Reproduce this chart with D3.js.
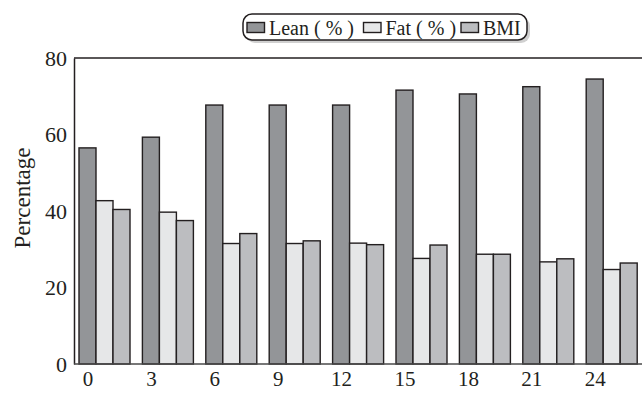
<!DOCTYPE html>
<html>
<head>
<meta charset="utf-8">
<script src="https://cdn.jsdelivr.net/npm/d3@7"></script>
<style>
  body { margin: 0; background: #fff; }
  svg { display: block; }
  text { font-family: "Liberation Serif", "Times New Roman", serif; fill: #231f20; }
</style>
</head>
<body>
<svg id="chart" width="642" height="393"></svg>
<script>
const categories = [0, 3, 6, 9, 12, 15, 18, 21, 24];
const seriesNames = ["Lean ( % )", "Fat ( % )", "BMI"];
const lean = [56.5, 59.3, 67.7, 67.7, 67.7, 71.6, 70.6, 72.5, 74.5];
const fat  = [42.7, 39.7, 31.5, 31.5, 31.6, 27.6, 28.7, 26.7, 24.7];
const bmi  = [40.4, 37.5, 34.1, 32.2, 31.2, 31.1, 28.7, 27.5, 26.4];
const yTicks = [0, 20, 40, 60, 80];
const colors = ["#939598", "#e6e7e8", "#bcbdc0"];
const series = [lean, fat, bmi];

const svg = d3.select("#chart");
const mLeft = 74, mTop = 58, mBottom = 364, mRight = 660;

const x = d3.scaleLinear().domain([0, 24]).range([87.5, 594.7]);
const y = d3.scaleLinear().domain([0, 80]).range([mBottom, mTop]);
const bw = 17;

// bars
series.forEach((vals, si) => {
  svg.append("g").selectAll("rect")
    .data(categories.map((c, i) => ({ c, v: vals[i] })))
    .join("rect")
    .attr("x", d => x(d.c) - bw / 2 + si * bw)
    .attr("y", d => y(d.v))
    .attr("width", bw)
    .attr("height", d => y(0) - y(d.v))
    .attr("fill", colors[si])
    .attr("stroke", "#231f20")
    .attr("stroke-width", 1.4);
});

// frame lines
svg.append("line").attr("x1", mLeft).attr("x2", mRight).attr("y1", mTop).attr("y2", mTop)
  .attr("stroke", "#231f20").attr("stroke-width", 1.5);

// axes
const yAxis = svg.append("g").attr("transform", `translate(${mLeft},0)`)
  .call(d3.axisLeft(y).tickValues(yTicks).tickSize(0).tickPadding(7).tickSizeOuter(0));
yAxis.select(".domain").attr("stroke", "#231f20").attr("stroke-width", 1.5);
yAxis.attr("font-family", '"Liberation Serif", serif');
yAxis.selectAll("text").style("font-size", "22px").attr("dy", "0.32em");

const xAxis = svg.append("g").attr("transform", `translate(0,${mBottom})`)
  .call(d3.axisBottom(x).tickValues(categories).tickSize(0).tickPadding(7).tickSizeOuter(0));
xAxis.select(".domain").attr("d", `M${mLeft},0H${mRight}`).attr("stroke", "#4a4a4a").attr("stroke-width", 1.5);
xAxis.attr("font-family", '"Liberation Serif", serif');
xAxis.selectAll("text").style("font-size", "21px");

// y label
svg.append("text")
  .attr("transform", `translate(30,198) rotate(-90)`)
  .attr("text-anchor", "middle")
  .style("font-size", "23px")
  .text("Percentage");

// legend
const lg = svg.append("g");
lg.append("rect").attr("x", 246).attr("y", 17).attr("width", 284).attr("height", 26)
  .attr("rx", 9).attr("fill", "#d0d0d0");
lg.append("rect").attr("x", 243).attr("y", 14).attr("width", 284).attr("height", 26)
  .attr("rx", 9).attr("fill", "#fff").attr("stroke", "#231f20").attr("stroke-width", 1.5);
const legendX = [247, 363.5, 461];
seriesNames.forEach((n, i) => {
  lg.append("rect").attr("x", legendX[i]).attr("y", 22.5).attr("width", 17.5).attr("height", 10)
    .attr("fill", colors[i]).attr("stroke", "#231f20").attr("stroke-width", 1.4);
  lg.append("text").attr("x", legendX[i] + 22).attr("y", 34.5)
    .style("font-size", "20px").text(n);
});
</script>
</body>
</html>
